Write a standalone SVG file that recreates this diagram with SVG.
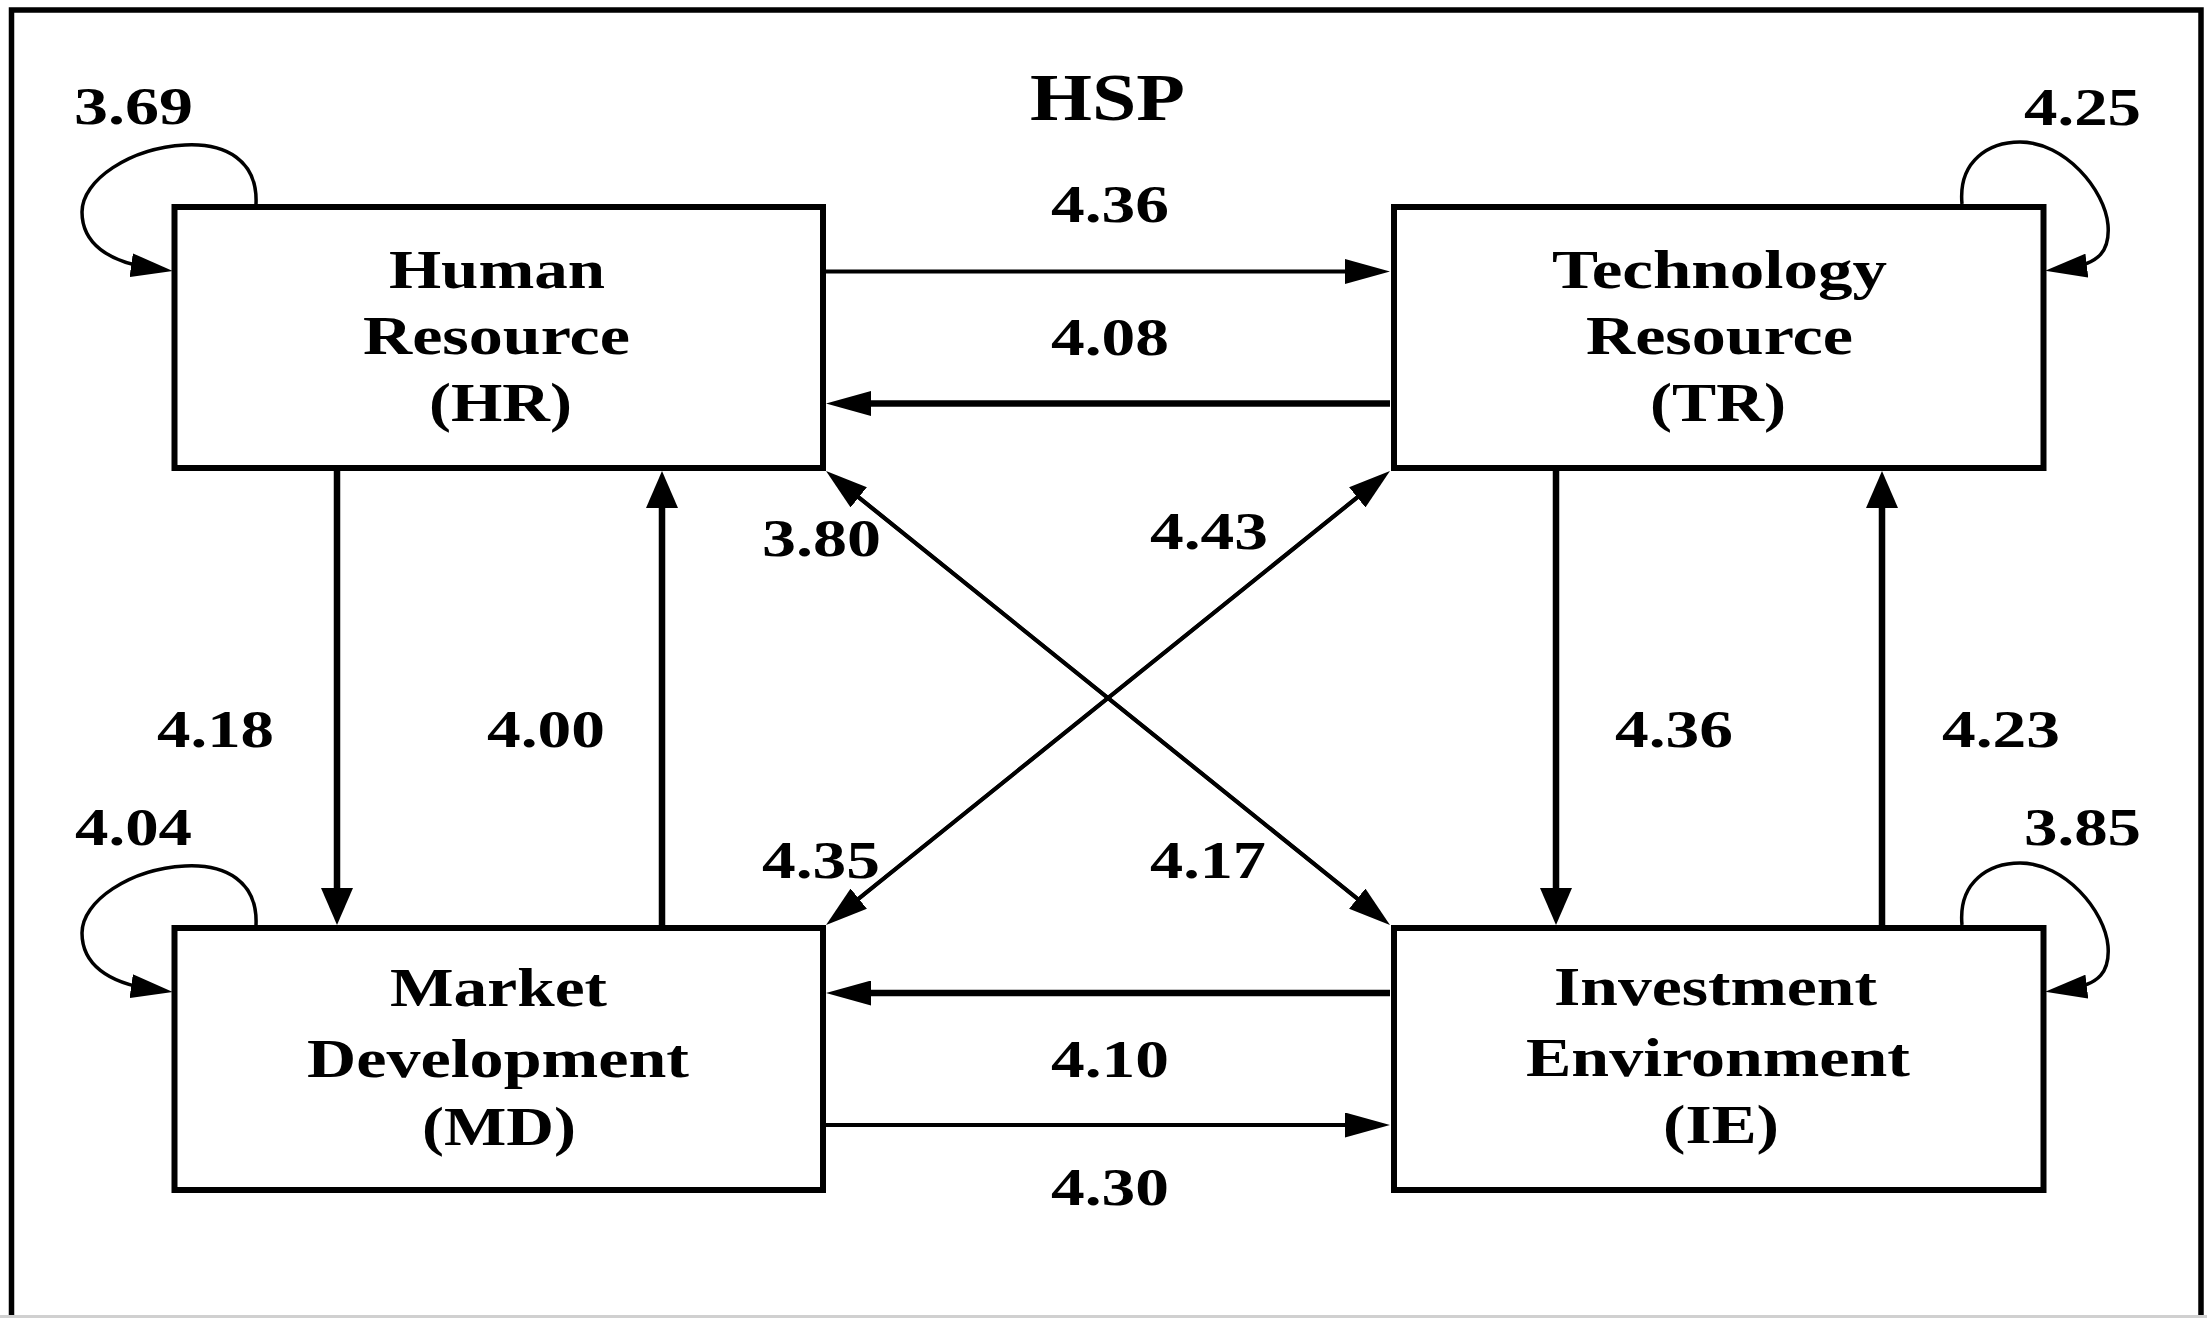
<svg xmlns="http://www.w3.org/2000/svg" width="2207" height="1318" viewBox="0 0 2207 1318">
<style>
.box{fill:#fff;stroke:#000;stroke-width:6}
.t{font-family:"Liberation Serif","Times New Roman",serif;font-weight:bold;fill:#000;font-size:55px}
.n{font-family:"Liberation Serif","Times New Roman",serif;font-weight:bold;fill:#000;font-size:53px}
.thin{fill:none;stroke:#000;stroke-width:4}
.thick{fill:none;stroke:#000;stroke-width:6.5}
.loop{fill:none;stroke:#000;stroke-width:3.5}
</style>
<defs>
<marker id="ah" markerUnits="userSpaceOnUse" markerWidth="45" markerHeight="25" refX="22.5" refY="12.5" orient="auto"><path d="M0,0 L45,12.5 L0,25 z" fill="#000"/></marker>
<marker id="av" markerUnits="userSpaceOnUse" markerWidth="37" markerHeight="32" refX="18.5" refY="16" orient="auto"><path d="M0,0 L37,16 L0,32 z" fill="#000"/></marker>
<marker id="ad" markerUnits="userSpaceOnUse" markerWidth="42" markerHeight="26" refX="21" refY="13" orient="auto"><path d="M0,0 L42,13 L0,26 z" fill="#000"/></marker>
<marker id="al" markerUnits="userSpaceOnUse" markerWidth="42" markerHeight="24" refX="20" refY="12" orient="auto"><path d="M0,0 L42,12 L0,24 z" fill="#000"/></marker>
</defs>
<rect width="2207" height="1318" fill="#fff"/>
<rect x="11.5" y="10" width="2189.5" height="1340" fill="none" stroke="#000" stroke-width="5.5"/>
<line x1="0" y1="1316.5" x2="2207" y2="1316.5" stroke="#d0d0d0" stroke-width="3"/>
<text class="t" x="1030" y="120" textLength="155" lengthAdjust="spacingAndGlyphs" style="font-size:68px">HSP</text>

<g id="connectors">
<line class="thin" x1="826" y1="271.5" x2="1367.5" y2="271.5" marker-end="url(#ah)"/>
<line class="thick" x1="1390" y1="403.5" x2="848.5" y2="403.5" marker-end="url(#ah)"/>
<line class="thick" x1="1390" y1="993" x2="848.5" y2="993" marker-end="url(#ah)"/>
<line class="thin" x1="826" y1="1125" x2="1367.5" y2="1125" marker-end="url(#ah)"/>
<line class="thick" x1="337" y1="471" x2="337" y2="906.5" marker-end="url(#av)"/>
<line class="thick" x1="662" y1="925" x2="662" y2="489.5" marker-end="url(#av)"/>
<line class="thick" x1="1556" y1="471" x2="1556" y2="906.5" marker-end="url(#av)"/>
<line class="thick" x1="1882" y1="925" x2="1882" y2="489.5" marker-end="url(#av)"/>
<line class="thin" x1="842.4" y1="484.2" x2="1373.6" y2="911.8" marker-end="url(#ad)"/>
<line class="thin" x1="1373.6" y1="911.8" x2="842.4" y2="484.2" marker-end="url(#ad)"/>
<line class="thin" x1="842.4" y1="911.8" x2="1373.6" y2="484.2" marker-end="url(#ad)"/>
<line class="thin" x1="1373.6" y1="484.2" x2="842.4" y2="911.8" marker-end="url(#ad)"/>
<path class="loop" d="M256,204 C258,160 225,143 185,145 C130,148 82,180 82,212 C82,243 108,262 151,268" marker-end="url(#al)"/>
<path class="loop" d="M256,925 C258,881 225,864 185,866 C130,869 82,901 82,933 C82,964 108,983 151,989" marker-end="url(#al)"/>
<path class="loop" d="M1962,204 C1958,160 1990,142 2020,142 C2065,142 2105,190 2108,225 C2110,250 2100,264 2067,268" marker-end="url(#al)"/>
<path class="loop" d="M1962,925 C1958,881 1990,863 2020,863 C2065,863 2105,911 2108,946 C2110,971 2100,985 2067,989" marker-end="url(#al)"/>
</g>

<g id="labels">
<text class="n" x="74" y="124" textLength="119" lengthAdjust="spacingAndGlyphs">3.69</text>
<text class="n" x="2024" y="125" textLength="117" lengthAdjust="spacingAndGlyphs">4.25</text>
<text class="n" x="1051" y="222" textLength="118" lengthAdjust="spacingAndGlyphs">4.36</text>
<text class="n" x="1051" y="355" textLength="118" lengthAdjust="spacingAndGlyphs">4.08</text>
<text class="n" x="762" y="556" textLength="119" lengthAdjust="spacingAndGlyphs">3.80</text>
<text class="n" x="1150" y="549" textLength="118" lengthAdjust="spacingAndGlyphs">4.43</text>
<text class="n" x="157" y="747" textLength="117" lengthAdjust="spacingAndGlyphs">4.18</text>
<text class="n" x="487" y="747" textLength="118" lengthAdjust="spacingAndGlyphs">4.00</text>
<text class="n" x="1615" y="747" textLength="118" lengthAdjust="spacingAndGlyphs">4.36</text>
<text class="n" x="1942" y="747" textLength="118" lengthAdjust="spacingAndGlyphs">4.23</text>
<text class="n" x="75" y="845" textLength="117" lengthAdjust="spacingAndGlyphs">4.04</text>
<text class="n" x="2024" y="845" textLength="117" lengthAdjust="spacingAndGlyphs">3.85</text>
<text class="n" x="762" y="878" textLength="118" lengthAdjust="spacingAndGlyphs">4.35</text>
<text class="n" x="1150" y="878" textLength="116" lengthAdjust="spacingAndGlyphs">4.17</text>
<text class="n" x="1051" y="1077" textLength="118" lengthAdjust="spacingAndGlyphs">4.10</text>
<text class="n" x="1051" y="1205" textLength="118" lengthAdjust="spacingAndGlyphs">4.30</text>
</g>

<g id="HR">
<rect class="box" x="174.5" y="207" width="648.5" height="261"/>
<text class="t" x="389" y="288" textLength="216" lengthAdjust="spacingAndGlyphs">Human</text>
<text class="t" x="363" y="354" textLength="267" lengthAdjust="spacingAndGlyphs">Resource</text>
<text class="t" x="429" y="421" textLength="143" lengthAdjust="spacingAndGlyphs">(HR)</text>
</g>
<g id="TR">
<rect class="box" x="1394" y="207" width="649.5" height="261"/>
<text class="t" x="1552" y="288" textLength="335" lengthAdjust="spacingAndGlyphs">Technology</text>
<text class="t" x="1586" y="354" textLength="267" lengthAdjust="spacingAndGlyphs">Resource</text>
<text class="t" x="1650" y="421" textLength="136" lengthAdjust="spacingAndGlyphs">(TR)</text>
</g>
<g id="MD">
<rect class="box" x="174.5" y="928" width="648.5" height="262"/>
<text class="t" x="390" y="1006" textLength="217" lengthAdjust="spacingAndGlyphs">Market</text>
<text class="t" x="307" y="1077" textLength="382" lengthAdjust="spacingAndGlyphs">Development</text>
<text class="t" x="422" y="1145" textLength="154" lengthAdjust="spacingAndGlyphs">(MD)</text>
</g>
<g id="IE">
<rect class="box" x="1394" y="928" width="649.5" height="262"/>
<text class="t" x="1554" y="1005" textLength="323" lengthAdjust="spacingAndGlyphs">Investment</text>
<text class="t" x="1526" y="1076" textLength="384" lengthAdjust="spacingAndGlyphs">Environment</text>
<text class="t" x="1663" y="1143" textLength="116" lengthAdjust="spacingAndGlyphs">(IE)</text>
</g>
</svg>
